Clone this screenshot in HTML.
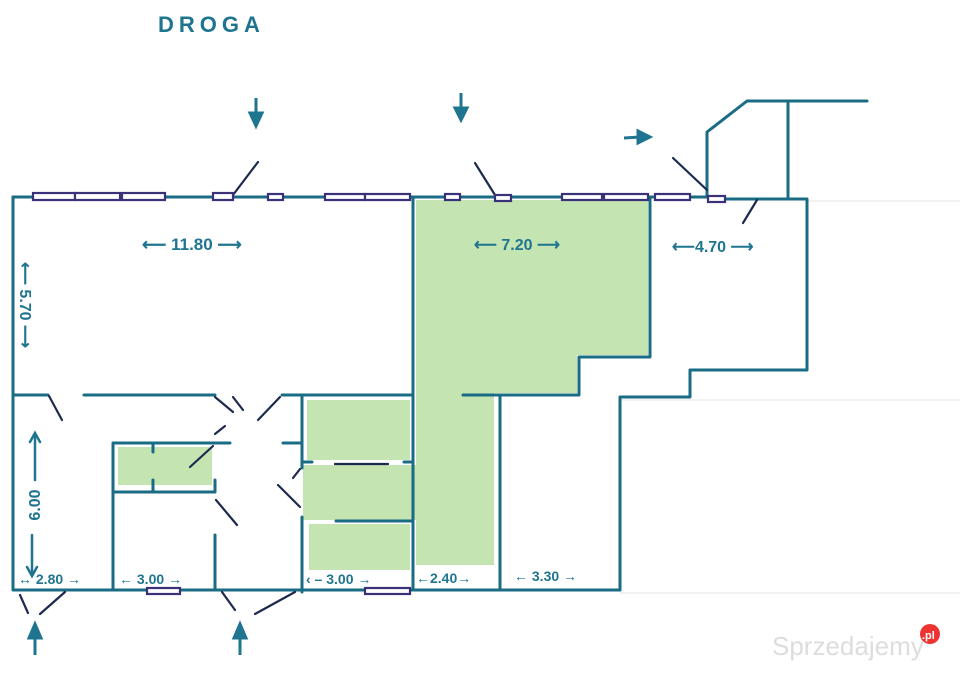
<!DOCTYPE html>
<html><head><meta charset="utf-8"><style>
html,body{margin:0;padding:0;background:#fff;}
svg{display:block}
text{font-family:"Liberation Sans",sans-serif;fill:#1f7590;font-weight:bold}
</style></head><body>
<svg width="960" height="679" viewBox="0 0 960 679" xmlns="http://www.w3.org/2000/svg">
<g stroke="#e4e4e4" stroke-width="1">
<line x1="807" y1="201" x2="960" y2="201"/>
<line x1="620" y1="400" x2="960" y2="400"/>
<line x1="620" y1="593" x2="960" y2="593"/>
</g>
<g fill="#c4e4b2">
<path d="M416 200 H648 V355 H577 V393 H416 Z"/>
<rect x="416" y="393" width="78" height="172"/>
<rect x="307" y="400" width="103" height="60"/>
<rect x="303" y="465" width="113" height="55"/>
<rect x="309" y="524" width="101" height="46"/>
<rect x="118" y="447" width="94" height="38"/>
</g>
<g stroke="#1a6b84" stroke-width="3" fill="none" stroke-linecap="round" stroke-linejoin="round">
<path d="M13 197 H707"/>
<path d="M722 199 H807 V370 H690 V397 H620 V590"/>
<path d="M13 197 V590 H620"/>
<line x1="413" y1="197" x2="413" y2="590"/>
<path d="M650 197 V357 H579 V395 H463"/>
<line x1="500" y1="395" x2="500" y2="590"/>
<path d="M13 395 H48"/><path d="M84 395 H215"/>
<path d="M282 395 H413"/>
<path d="M707 197 V132 L747 101 H867"/>
<line x1="788" y1="101" x2="788" y2="199"/>
<path d="M113 590 V443 H230"/>
<path d="M113 492 H215 V480"/>
<line x1="215" y1="535" x2="215" y2="590"/>
<line x1="153" y1="443" x2="153" y2="452"/><line x1="153" y1="480" x2="153" y2="492"/>
<line x1="302" y1="395" x2="302" y2="468"/>
<line x1="302" y1="517" x2="302" y2="592"/>
<line x1="283" y1="443" x2="302" y2="443"/>
<line x1="336" y1="521" x2="413" y2="521"/>
<line x1="302" y1="462" x2="312" y2="462"/>
<line x1="404" y1="462" x2="413" y2="462"/>
</g>
<g stroke="#1d2a4f" stroke-width="2.2" stroke-linecap="round">
<line x1="49" y1="396" x2="62" y2="420"/>
<line x1="215" y1="397" x2="233" y2="412"/>
<line x1="233" y1="397" x2="243" y2="410"/>
<line x1="280" y1="397" x2="258" y2="420"/>
<line x1="225" y1="426" x2="215" y2="434"/>
<line x1="213" y1="446" x2="190" y2="467"/>
<line x1="216" y1="500" x2="237" y2="525"/>
<line x1="300" y1="469" x2="293" y2="478"/>
<line x1="300" y1="507" x2="278" y2="485"/>
<line x1="258" y1="162" x2="233" y2="195"/>
<line x1="475" y1="163" x2="495" y2="195"/>
<line x1="673" y1="158" x2="707" y2="190"/>
<line x1="757" y1="200" x2="743" y2="223"/>
<line x1="20" y1="595" x2="28" y2="613"/>
<line x1="65" y1="592" x2="40" y2="614"/>
<line x1="222" y1="592" x2="235" y2="610"/>
<line x1="295" y1="592" x2="255" y2="614"/>
<line x1="335" y1="464" x2="388" y2="464"/>
</g>
<g fill="#fff" stroke="#3a3278" stroke-width="2.2">
<rect x="33" y="193" width="42" height="7"/>
<rect x="75" y="193" width="45" height="7"/>
<rect x="122" y="193" width="43" height="7"/>
<rect x="213" y="193" width="20" height="7"/>
<rect x="268" y="194" width="15" height="6"/>
<rect x="325" y="194" width="40" height="6"/>
<rect x="365" y="194" width="45" height="6"/>
<rect x="445" y="194" width="15" height="6"/>
<rect x="495" y="195" width="16" height="6"/>
<rect x="562" y="194" width="40" height="6"/>
<rect x="604" y="194" width="44" height="6"/>
<rect x="655" y="194" width="35" height="6"/>
<rect x="708" y="196" width="17" height="6"/>
<rect x="147" y="588" width="33" height="6"/>
<rect x="365" y="588" width="45" height="6"/>
</g>
<g fill="#1f7590" stroke="#1f7590" stroke-width="3">
<line x1="256" y1="98" x2="256" y2="115"/><path d="M250 113 H262 L256 126 Z"/>
<line x1="461" y1="93" x2="461" y2="110"/><path d="M455 108 H467 L461 120 Z"/>
<line x1="624" y1="138" x2="640" y2="137"/><path d="M638 131 L650 137 L638 143 Z"/>
<line x1="35" y1="655" x2="35" y2="635"/><path d="M29 638 H41 L35 624 Z"/>
<line x1="240" y1="655" x2="240" y2="635"/><path d="M234 638 H246 L240 624 Z"/>
</g>
<text x="158" y="32" font-size="22" letter-spacing="5">DROGA</text>
<g>
<text x="142" y="250" font-size="17">⟵ 11.80 ⟶</text>
<text x="474" y="250" font-size="16">⟵ 7.20 ⟶</text>
<text x="672" y="252" font-size="16">⟵4.70 ⟶</text>
<text x="18" y="584" font-size="14">↔ 2.80 →</text>
<text x="119" y="584" font-size="14">← 3.00 →</text>
<text x="306" y="584" font-size="14">‹ – 3.00 →</text>
<text x="416" y="583" font-size="14">←2.40→</text>
<text x="514" y="581" font-size="14">← 3.30 →</text>
<text transform="translate(20,305) rotate(90)" font-size="16" text-anchor="middle">⟵ 5.70 ⟶</text>
<text transform="translate(40,505) rotate(-90)" font-size="16" text-anchor="middle">6.00</text>
</g>
<g stroke="#1f7590" stroke-width="2.5" fill="none" stroke-linecap="round">
<line x1="35" y1="435" x2="35" y2="480"/><path d="M30 442 L35 433 L40 442"/>
<line x1="32" y1="535" x2="32" y2="575"/><path d="M27 567 L32 576 L37 567"/>
</g>
<text x="772" y="655" font-size="26" style="fill:#ddd;font-weight:normal">Sprzedajemy</text>
<circle cx="930" cy="634" r="10" fill="#e33"/>
<text x="922" y="639" font-size="11" style="fill:#fff">.pl</text>
</svg>
</body></html>
